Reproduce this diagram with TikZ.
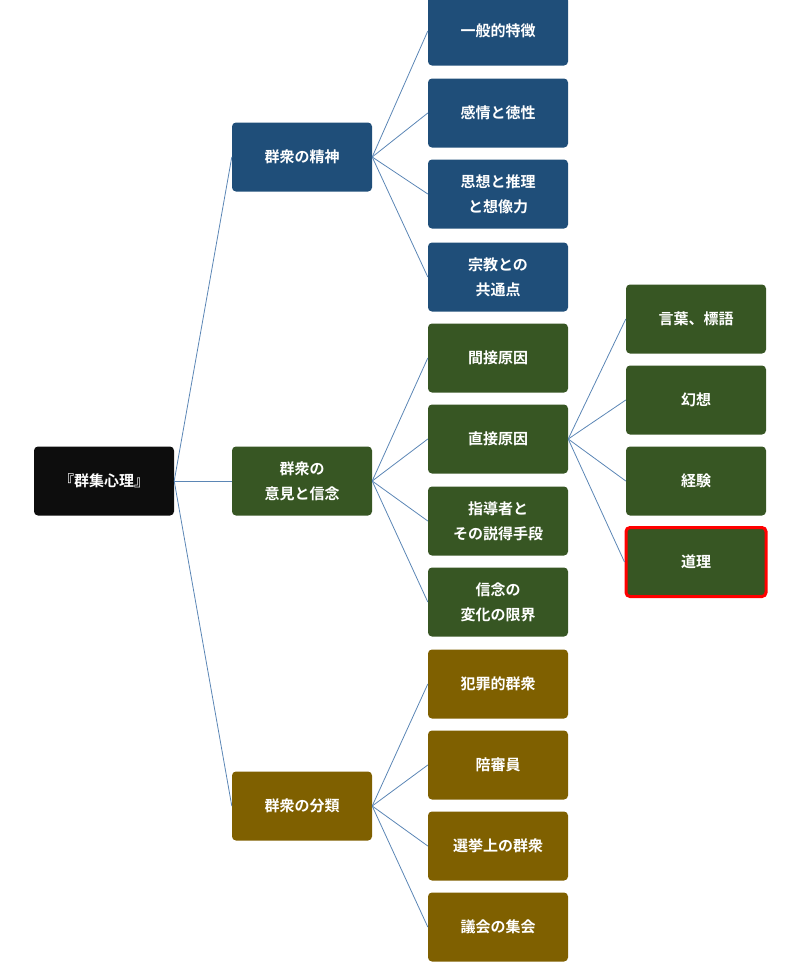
\documentclass[tikz,border=0pt]{standalone}
\usepackage{fontspec}
\setmainfont{Noto Sans CJK JP}[BoldFont={Noto Sans CJK JP Bold}]
\usetikzlibrary{positioning}
\definecolor{tblue}{HTML}{1F4E79}
\definecolor{tgreen}{HTML}{375623}
\definecolor{tbrown}{HTML}{7F6000}
\definecolor{tlink}{HTML}{5B86B5}
\tikzset{
  box/.style={rounded corners=4pt, minimum width=140pt, minimum height=69pt,
    text=white, font=\bfseries\fontsize{15}{25}\selectfont, align=center, inner sep=0pt},
  rootbox/.style={box, fill=black!95},
  bluebox/.style={box, fill=tblue},
  greenbox/.style={box, fill=tgreen},
  brownbox/.style={box, fill=tbrown},
  link/.style={draw=tlink, line width=0.8pt}
}
\begin{document}
\begin{tikzpicture}[x=1pt,y=-1pt]
  \useasboundingbox (0,0) rectangle (800,967);

  \node (root) [rootbox] at (104,481) {『群集心理』};

  \node (mind) [bluebox] at (302,157) {群衆の精神};
  \node (opin) [greenbox] at (302,481) {群衆の\\意見と信念};
  \node (kind) [brownbox] at (302,806) {群衆の分類};

  \node (m1) [bluebox] at (498,31) {一般的特徴};
  \node (m2) [bluebox] at (498,113) {感情と徳性};
  \node (m3) [bluebox] at (498,194) {思想と推理\\と想像力};
  \node (m4) [bluebox] at (498,277) {宗教との\\共通点};

  \node (o1) [greenbox] at (498,358) {間接原因};
  \node (o2) [greenbox] at (498,439) {直接原因};
  \node (o3) [greenbox] at (498,521) {指導者と\\その説得手段};
  \node (o4) [greenbox] at (498,602) {信念の\\変化の限界};

  \node (k1) [brownbox] at (498,684) {犯罪的群衆};
  \node (k2) [brownbox] at (498,765) {陪審員};
  \node (k3) [brownbox] at (498,846) {選挙上の群衆};
  \node (k4) [brownbox] at (498,927) {議会の集会};

  \node (d1) [greenbox] at (696,319) {言葉、標語};
  \node (d2) [greenbox] at (696,400) {幻想};
  \node (d3) [greenbox] at (696,481) {経験};
  \node (d4) [greenbox, draw=red, line width=3pt] at (696,562) {道理};

  \foreach \c in {mind,opin,kind}
    \draw [link] (root.east) -- (\c.west);
  \foreach \c in {m1,m2,m3,m4}
    \draw [link] (mind.east) -- (\c.west);
  \foreach \c in {o1,o2,o3,o4}
    \draw [link] (opin.east) -- (\c.west);
  \foreach \c in {k1,k2,k3,k4}
    \draw [link] (kind.east) -- (\c.west);
  \foreach \c in {d1,d2,d3,d4}
    \draw [link] (o2.east) -- (\c.west);
\end{tikzpicture}
\end{document}
